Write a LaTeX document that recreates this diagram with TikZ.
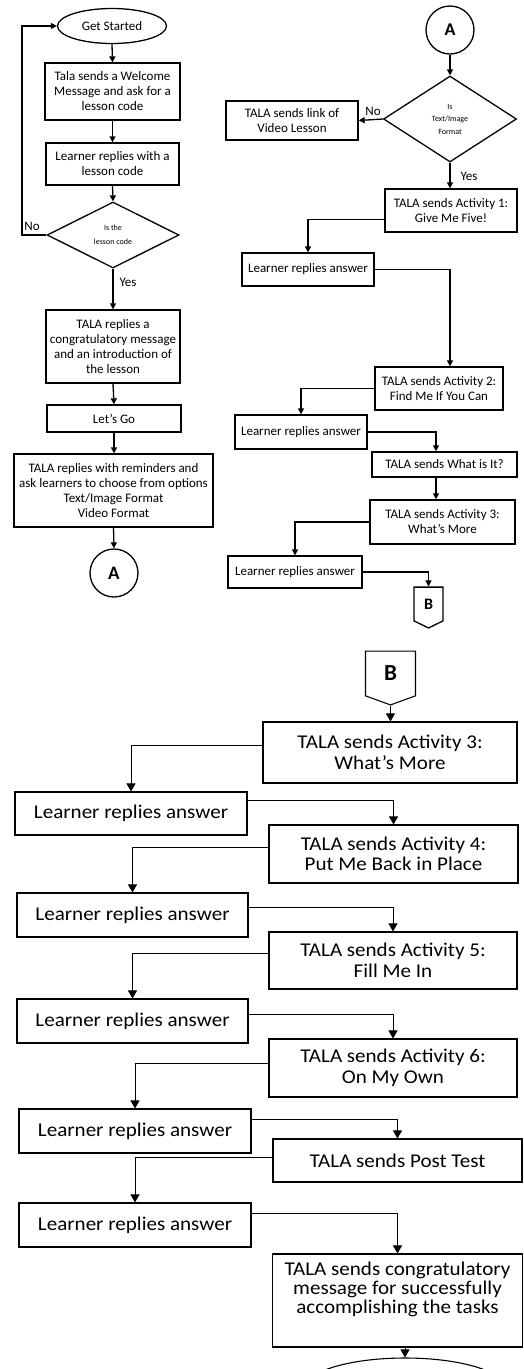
\documentclass[tikz,border=0pt]{standalone}
\usepackage{fontspec}
\setmainfont{Carlito}
\newfontfamily\widefont[FakeStretch=1.08]{Carlito}
\usetikzlibrary{shapes.geometric,shapes.symbols,arrows.meta}

\begin{document}
\begin{tikzpicture}[x=1pt, y=-1pt,
    box/.style={draw=black, line width=1.3pt, align=center, inner sep=2pt, font=\fontsize{13}{15}\selectfont},
    bigbox/.style={draw=black, line width=1.1pt, align=center, inner sep=3pt, font=\widefont\fontsize{19.5}{20.5}\selectfont},
    flow/.style={-{Triangle[length=6pt,width=6pt]}, line width=1.3pt},
    bigflow/.style={-{Triangle[length=8pt,width=9pt]}, line width=0.9pt},
    lbl/.style={font=\fontsize{13}{15}\selectfont, inner sep=1pt}]

    \useasboundingbox (0,0) rectangle (524,1369);
    \clip (0,0) rectangle (524,1369);

    % Draw the left column (lesson code)
    \node[box, ellipse, minimum width=109pt, minimum height=35pt, inner sep=0pt] (GetStarted) at (112,26) {Get Started};
    \node[box, minimum width=135pt, minimum height=57pt] (Welcome) at (112.5,91.5) {Tala sends a Welcome\\Message and ask for a\\lesson code};
    \node[box, minimum width=133pt, minimum height=42pt] (Code) at (112.5,164) {Learner replies with a\\lesson code};
    \node[box, diamond, minimum width=132pt, minimum height=66pt, inner sep=0pt, font=\fontsize{8}{14}\selectfont] (IsCode) at (113,235) {Is the\\lesson code};
    \node[box, minimum width=134pt, minimum height=73pt] (Intro) at (113,346.5) {TALA replies a\\congratulatory message\\and an introduction of\\the lesson};
    \node[box, minimum width=134pt, minimum height=27pt] (LetsGo) at (114,418.5) {Let's Go};
    \node[box, minimum width=199pt, minimum height=73pt] (Options) at (113.5,490.5) {TALA replies with reminders and\\ask learners to choose from options\\Text/Image Format\\Video Format};
    \node[box, circle, minimum size=48pt, inner sep=0pt, font=\bfseries\fontsize{19}{19}\selectfont] (ToA) at (114,573) {A};
    \coordinate (LoopCorner) at (22,235);
    \node[lbl] (NoCode) at (32,226) {No};
    \node[lbl] (YesCode) at (128,282) {Yes};

    % Draw the right column (activities 1 to 3)
    \node[box, circle, minimum size=48pt, inner sep=0pt, font=\bfseries\fontsize{18}{18}\selectfont] (FromA) at (450,30) {A};
    \node[box, diamond, minimum width=133pt, minimum height=86pt, inner sep=0pt, font=\fontsize{8}{12.5}\selectfont] (IsText) at (450,119) {Is\\Text/Image\\Format};
    \node[box, minimum width=132pt, minimum height=39pt] (VideoLink) at (292,120.5) {TALA sends link of\\Video Lesson};
    \node[lbl] (NoText) at (373,111) {No};
    \node[lbl] (YesText) at (469,176) {Yes};
    \node[box, minimum width=132pt, minimum height=43pt] (ActOne) at (451,210.5) {TALA sends Activity 1:\\Give Me Five!};
    \node[box, minimum width=132pt, minimum height=33pt] (AnsOne) at (308,269.5) {Learner replies answer};
    \node[box, minimum width=128pt, minimum height=43pt] (ActTwo) at (439,388.5) {TALA sends Activity 2:\\Find Me If You Can};
    \node[box, minimum width=132pt, minimum height=34pt] (AnsTwo) at (301,432) {Learner replies answer};
    \node[box, minimum width=145pt, minimum height=25pt] (WhatIs) at (444.5,464.5) {TALA sends What is It?};
    \node[box, minimum width=145pt, minimum height=44pt] (ActThree) at (442.5,522) {TALA sends Activity 3:\\What's More};
    \node[box, minimum width=134pt, minimum height=32pt] (AnsThree) at (295,572) {Learner replies answer};
    \node[box, signal, signal to=south, signal pointer angle=128, minimum width=29pt, minimum height=36pt, inner sep=0pt, font=\bfseries\fontsize{16}{16}\selectfont] (ToB) at (428.5,604) {B};
    \coordinate (WhatIsDrop) at (436,477);

    % Draw the bottom part (activities 3 to 6 and post test)
    \node[bigbox, signal, signal to=south, signal pointer angle=140, minimum width=50pt, minimum height=47pt, inner sep=0pt, font=\bfseries\fontsize{23}{23}\selectfont] (FromB) at (390.5,673.5) {B};
    \node[bigbox, minimum width=254pt, minimum height=61pt] (ActThreeB) at (390,752.5) {TALA sends Activity 3:\\What’s More};
    \node[bigbox, minimum width=232pt, minimum height=43pt] (AnsB1) at (131,813.5) {Learner replies answer};
    \node[bigbox, minimum width=249pt, minimum height=58pt] (ActFour) at (393.5,854) {TALA sends Activity 4:\\Put Me Back in Place};
    \node[bigbox, minimum width=231pt, minimum height=44pt] (AnsB2) at (132.5,915) {Learner replies answer};
    \node[bigbox, minimum width=248pt, minimum height=57pt] (ActFive) at (393,960.5) {TALA sends Activity 5:\\Fill Me In};
    \node[bigbox, minimum width=231pt, minimum height=44pt] (AnsB3) at (132.5,1021) {Learner replies answer};
    \node[bigbox, minimum width=248pt, minimum height=58pt] (ActSix) at (393,1068) {TALA sends Activity 6:\\On My Own};
    \node[bigbox, minimum width=232pt, minimum height=44pt] (AnsB4) at (135,1131) {Learner replies answer};
    \node[bigbox, minimum width=249pt, minimum height=43pt] (PostTest) at (397.5,1160.5) {TALA sends Post Test};
    \node[bigbox, minimum width=232pt, minimum height=44pt] (AnsB5) at (135,1225) {Learner replies answer};
    \node[bigbox, minimum width=250pt, minimum height=93pt, text height=56pt, text depth=31pt, font=\widefont\fontsize{19.5}{19}\selectfont] (Congrats) at (397.5,1300.5) {TALA sends congratulatory\\message for successfully\\accomplishing the tasks};
    \node[bigbox, ellipse, minimum width=200pt, minimum height=60pt] (Finish) at (405,1388) {};

    % Draw the arrows of the left column
    \draw[flow] (GetStarted.south) -- (Welcome.north);
    \draw[flow] (Welcome.south) -- (Code.north);
    \draw[flow] (Code.south) -- (IsCode.north);
    \draw[flow] (IsCode.south) -- (Intro.north);
    \draw[flow] (IsCode.west) -- (LoopCorner) |- (GetStarted.west);
    \draw[flow] (Intro.south) -- (LetsGo.north);
    \draw[flow] (LetsGo.south) -- (LetsGo.south |- Options.north);
    \draw[flow] (Options.south) -- (ToA.north);

    % Draw the arrows of the right column
    \draw[flow] (FromA.south) -- (IsText.north);
    \draw[flow] (IsText.west) -- (VideoLink.east);
    \draw[flow] (IsText.south) -- (IsText.south |- ActOne.north);
    \draw[flow] ([yshift=-9pt]ActOne.west) -| (AnsOne.north);
    \draw[flow] (AnsOne.east) -| (ActTwo.north -| IsText.south);
    \draw[flow] (ActTwo.west) -| (AnsTwo.north);
    \draw[flow] (AnsTwo.east) -| (WhatIsDrop |- WhatIs.north);
    \draw[flow] (WhatIsDrop) -- (WhatIsDrop |- ActThree.north);
    \draw[flow] (ActThree.west) -| (AnsThree.north);
    \draw[flow] (AnsThree.east) -| (ToB.north);

    % Draw the arrows of the bottom part
    \draw[bigflow] (FromB.south) -- (FromB.south |- ActThreeB.north);
    \draw[bigflow] ([yshift=7pt]ActThreeB.west) -| (AnsB1.north);
    \draw[bigflow] ([yshift=13pt]AnsB1.east) -| (ActFour.north);
    \draw[bigflow] ([yshift=7pt]ActFour.west) -| (AnsB2.north);
    \draw[bigflow] ([yshift=8pt]AnsB2.east) -| (ActFive.north);
    \draw[bigflow] ([yshift=7pt]ActFive.west) -| (AnsB3.north);
    \draw[bigflow] ([yshift=7pt]AnsB3.east) -| (ActSix.north);
    \draw[bigflow] ([yshift=5pt]ActSix.west) -| (AnsB4.north);
    \draw[bigflow] ([yshift=12pt]AnsB4.east) -| (PostTest.north);
    \draw[bigflow] ([yshift=3pt]PostTest.west) -| (AnsB5.north);
    \draw[bigflow] ([yshift=12pt]AnsB5.east) -| (Congrats.north);
    \draw[bigflow] (Congrats.south -| Finish.north) -- (Finish.north);

\end{tikzpicture}
\end{document}
